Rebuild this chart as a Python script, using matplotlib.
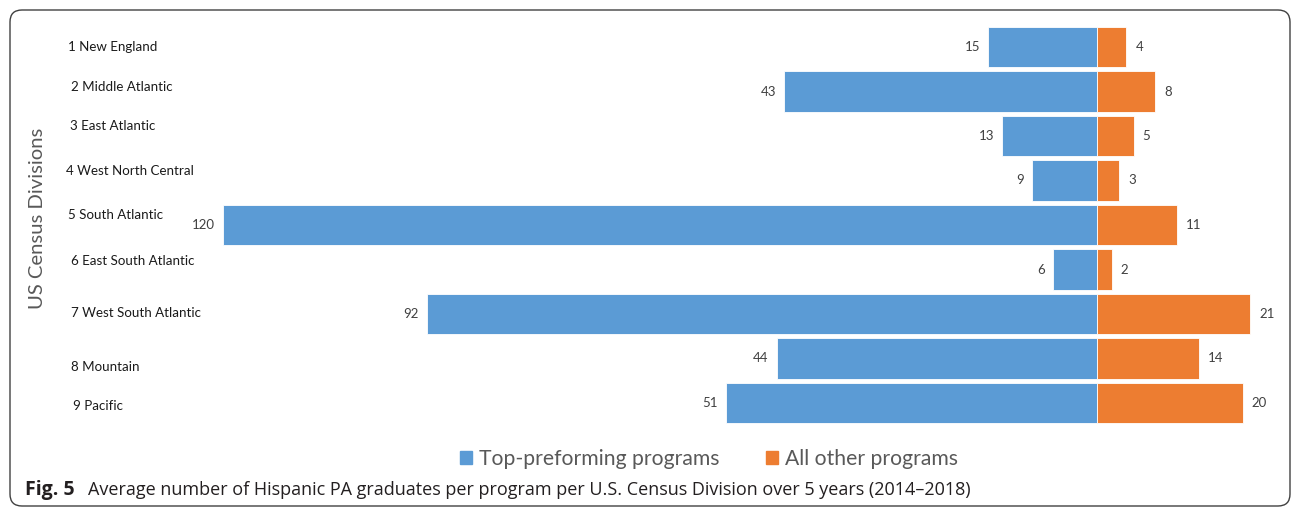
import matplotlib
matplotlib.use("Agg")
import matplotlib.pyplot as plt
from matplotlib.patches import FancyBboxPatch, Patch

divisions = ["1 New England", "2 Middle Atlantic", "3 East Atlantic",
             "4 West North Central", "5 South Atlantic", "6 East South Atlantic",
             "7 West South Atlantic", "8 Mountain", "9 Pacific"]
top_programs = [15, 43, 13, 9, 120, 6, 92, 44, 51]
other_programs = [4, 8, 5, 3, 11, 2, 21, 14, 20]

# hand-placed category labels in the original (offsets in rows, x in px)
label_dy = [0, -0.09, -0.22, -0.22, -0.22, -0.18, -0.02, 0.2, 0.07]
label_x = [68, 71, 70, 66, 68, 71, 71, 71, 73]

BLUE = "#5B9BD5"
ORANGE = "#ED7D31"
W, H = 1295, 508

plt.rcParams['font.family'] = ['Lato', 'DejaVu Sans']

fig = plt.figure(figsize=(W / 100, H / 100), dpi=100)
ax = fig.add_axes([186.6 / W, 78.3 / H, 1100 / W, 409.4 / H])

rows = range(len(divisions))
ax.barh(rows, [-v for v in top_programs], height=0.9, color=BLUE,
        edgecolor="white", linewidth=0.6)
ax.barh(rows, other_programs, height=0.9, color=ORANGE,
        edgecolor="white", linewidth=0.6)

for i, (t, o) in enumerate(zip(top_programs, other_programs)):
    ax.annotate(str(t), (-t, i), xytext=(-8, 0), textcoords="offset pixels",
                ha="right", va="center", fontsize=9.5, color="#404040")
    ax.annotate(str(o), (o, i), xytext=(9, 0), textcoords="offset pixels",
                ha="left", va="center", fontsize=9.5, color="#404040")

trans = matplotlib.transforms.blended_transform_factory(fig.transFigure, ax.transData)
for i, name in enumerate(divisions):
    ax.text(label_x[i] / W, i + label_dy[i], name, transform=trans,
            ha="left", va="center", fontsize=9.6, color="#1a1a1a")

ax.set_xlim(-125, 26)
ax.set_ylim(8.6, -0.6)
ax.axis("off")

fig.text(38 / W, (H - 218) / H, "US Census Divisions", rotation=90,
         ha="center", va="center", fontsize=14.6, color="#595959")

handles = [Patch(color=BLUE, label="Top-preforming programs"),
           Patch(color=ORANGE, label="All other programs")]
fig.legend(handles=handles, loc="center", bbox_to_anchor=(709 / W, (H - 459) / H),
           ncol=2, frameon=False, fontsize=15.2, labelcolor="#595959",
           handlelength=0.55, handleheight=0.55, handletextpad=0.35,
           columnspacing=2.2)

cap = ["Open Sans", "DejaVu Sans"]
fig.text(25 / W, (H - 490) / H, "Fig. 5", fontweight="bold", fontsize=14,
         ha="left", va="center", color="#231f20", family=cap)
fig.text(88 / W, (H - 490) / H,
         "Average number of Hispanic PA graduates per program per U.S. Census Division over 5 years (2014\u20132018)",
         fontsize=13.0, ha="left", va="center", color="#231f20", family=cap)

box = FancyBboxPatch((0.10, 0.02), 12.80, 4.96, boxstyle="round,pad=0,rounding_size=0.12",
                     transform=fig.dpi_scale_trans, fill=False, edgecolor="#404040",
                     linewidth=1)
fig.patches.append(box)

fig.savefig("out.png", dpi=100)
